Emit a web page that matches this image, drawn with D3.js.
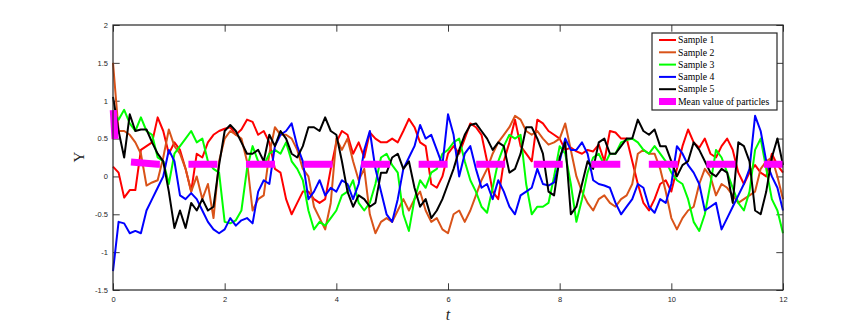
<!DOCTYPE html>
<html>
<head>
<meta charset="utf-8">
<script src="https://cdn.jsdelivr.net/npm/d3@7"></script>
<style>
  body { margin: 0; background: #fff; }
  svg { display: block; }
  .axis text { font-family: "Liberation Sans", Arial, sans-serif; font-size: 7.5px; fill: #262626; }
  .axis line { stroke: #262626; stroke-width: 0.9; }
</style>
</head>
<body>
<svg width="866" height="327"></svg>
<script>
// time step of the samples (t = i * dt, 0..12)
var dt = 0.1;

var sample1 = [0.13, 0.05, -0.28, -0.18, -0.18, 0.35, 0.4, 0.45, 0.78, 0.6, 0.3, 0.45, 0.35, 0.1, -0.2, 0.3, 0.25, 0.45, 0.55, 0.6, 0.63, 0.65, 0.55, 0.62, 0.75,
  0.72, 0.55, 0.6, 0.45, 0.1, 0.05, -0.3, -0.5, -0.35, -0.2, -0.2, -0.3, -0.35, -0.3, 0.1, 0.45, 0.6, 0.55, 0.3, 0.45, 0.25, 0.58, 0.5, 0.45,
  0.45, 0.5, 0.45, 0.6, 0.76, 0.65, 0.45, 0.4, -0.1, -0.15, 0.0, 0.3, 0.4, 0.3, 0.5, 0.7, 0.65, 0.55, 0.2, -0.2, -0.3, 0.2, 0.45, 0.75,
  0.4, 0.3, 0.2, 0.75, 0.7, 0.6, 0.55, 0.5, 0.35, 0.38, 0.33, 0.3, 0.35, 0.33, 0.42, 0.2, 0.6, 0.58, 0.5, 0.5, 0.2, -0.1, -0.35, -0.45,
  -0.3, -0.1, -0.05, -0.2, 0.1, 0.4, 0.62, 0.45, 0.38, 0.5, 0.3, 0.25, 0.4, 0.5, 0.35, 0.05, -0.1, 0.05, 0.15, 0.05, 0.0, 0.3, 0.15, 0.05];

var sample2 = [1.5, 0.6, 0.6, 0.55, 0.45, 0.3, -0.12, -0.08, -0.05, 0.25, 0.62, 0.4, 0.3, 0.1, -0.2, 0.0, -0.3, -0.1, -0.55, 0.2, 0.5, 0.6, 0.55, 0.5, 0.2,
  -0.45, -0.3, -0.25, 0.3, 0.65, 0.55, 0.55, 0.5, 0.35, 0.1, 0.0, -0.4, -0.55, -0.7, -0.35, 0.5, 0.35, 0.5, 0.2, -0.05, 0.1, -0.5, -0.75, -0.6,
  -0.55, -0.6, -0.45, -0.3, -0.45, -0.3, -0.2, -0.45, -0.6, -0.55, -0.7, -0.75, -0.5, -0.45, -0.6, -0.45, -0.25, -0.05, 0.1, 0.3, 0.45, 0.55, 0.65, 0.8,
  0.75, 0.6, 0.55, 0.6, 0.5, 0.42, 0.45, 0.5, 0.7, 0.35, 0.0, -0.2, -0.35, -0.45, -0.3, -0.25, -0.35, -0.4, -0.3, -0.25, -0.1, 0.3, 0.35, 0.3,
  0.3, 0.1, -0.2, -0.55, -0.7, -0.55, -0.45, -0.4, -0.1, 0.1, 0.0, -0.25, -0.1, -0.15, -0.25, -0.35, -0.3, -0.25, -0.2, 0.1, 0.2, 0.25, 0.0, -0.3];

var sample3 = [0.85, 0.75, 0.88, 0.7, 0.6, 0.78, 0.6, 0.55, 0.25, 0.2, -0.1, 0.3, 0.4, 0.5, 0.6, 0.45, 0.5, 0.2, 0.1, 0.05, -0.6, -0.62, -0.58, -0.45, 0.1,
  0.4, 0.2, 0.15, 0.3, 0.35, 0.3, 0.45, 0.2, 0.1, -0.05, -0.45, -0.7, -0.6, -0.65, -0.55, -0.45, -0.25, -0.2, -0.05, -0.35, -0.45, -0.35, -0.1, 0.25,
  0.3, 0.15, 0.05, -0.5, -0.72, -0.3, -0.05, -0.15, 0.05, 0.1, 0.3, 0.35, 0.45, 0.5, 0.2, -0.05, -0.2, -0.4, -0.48, -0.15, 0.2, 0.4, 0.55, 0.5,
  0.55, -0.1, -0.5, -0.4, -0.4, -0.35, 0.0, 0.4, 0.3, -0.1, -0.6, -0.3, 0.05, 0.25, 0.3, 0.15, 0.3, 0.3, 0.45, 0.48, 0.5, 0.45, 0.35, 0.3,
  0.4, 0.3, 0.2, 0.05, -0.05, -0.1, -0.3, -0.6, -0.72, -0.5, -0.1, 0.35, 0.25, 0.05, -0.15, -0.35, -0.45, -0.2, 0.35, 0.5, 0.1, -0.3, -0.45, -0.75];

var sample4 = [-1.25, -0.6, -0.62, -0.75, -0.72, -0.75, -0.45, -0.3, -0.15, 0.0, 0.35, 0.2, -0.25, -0.3, -0.22, -0.3, -0.45, -0.6, -0.7, -0.75, -0.7, -0.55, -0.65, -0.58, -0.55,
  -0.62, -0.2, -0.05, -0.1, 0.4, 0.55, 0.6, 0.7, 0.4, 0.2, -0.3, -0.2, -0.05, -0.25, -0.15, -0.2, -0.05, -0.1, -0.3, -0.1, 0.35, 0.6, 0.1, -0.2,
  -0.5, -0.6, -0.3, 0.1, 0.25, 0.4, 0.68, 0.5, 0.55, 0.35, 0.15, 0.82, 0.55, 0.0, 0.3, 0.4, 0.1, -0.15, -0.1, -0.3, -0.05, -0.2, -0.4, -0.5,
  -0.25, -0.2, -0.15, 0.1, -0.1, -0.12, -0.08, 0.2, 0.5, 0.35, 0.35, 0.45, 0.3, -0.05, -0.1, -0.12, -0.15, -0.35, -0.5, -0.4, -0.3, -0.1, -0.15, -0.4,
  -0.48, -0.3, -0.35, -0.1, 0.4, 0.3, 0.15, 0.05, -0.1, -0.45, -0.4, -0.35, -0.7, -0.55, -0.4, -0.25, -0.1, 0.1, 0.8, 0.6, 0.2, 0.0, -0.15, -0.45];

var sample5 = [1.05, 0.6, 0.25, 0.82, 0.6, 0.62, 0.62, 0.45, 0.3, 0.2, -0.2, -0.68, -0.45, -0.68, -0.35, -0.45, -0.3, -0.45, -0.4, 0.15, 0.6, 0.68, 0.6, 0.45, 0.3,
  0.3, 0.35, 0.2, 0.55, 0.4, 0.6, 0.5, 0.3, 0.25, 0.4, 0.65, 0.65, 0.6, 0.78, 0.6, 0.55, 0.2, -0.2, -0.4, -0.25, -0.3, -0.4, -0.35, 0.05,
  0.05, 0.25, 0.3, 0.1, 0.2, -0.15, -0.4, -0.3, -0.55, -0.45, -0.3, -0.1, 0.1, 0.35, 0.55, 0.68, 0.7, 0.6, 0.5, 0.35, 0.45, 0.4, 0.05, 0.1,
  0.3, 0.65, 0.65, 0.5, 0.3, -0.2, -0.25, 0.25, 0.45, -0.5, -0.4, -0.1, 0.2, 0.1, 0.45, 0.5, 0.3, 0.3, 0.4, 0.5, 0.5, 0.75, 0.6, 0.55,
  0.62, 0.4, 0.4, 0.2, 0.0, 0.15, 0.2, 0.45, 0.35, 0.2, 0.05, 0.0, 0.1, 0.05, -0.35, 0.45, 0.4, 0.2, -0.45, -0.5, -0.2, 0.25, 0.5, 0.15];

// mean value of particles
var meanT = [0, 0.04, 0.32, 0.8, 12];
var meanV = [0.93, 0.45, 0.19, 0.16, 0.16];

var names = ["Sample 1", "Sample 2", "Sample 3", "Sample 4", "Sample 5", "Mean value of particles"];
var colors = ["#ff0000", "#d95319", "#00ff00", "#0000ff", "#000000", "#ff00ff"];

var xTicks = [0, 2, 4, 6, 8, 10, 12];
var yTicks = [-1.5, -1, -0.5, 0, 0.5, 1, 1.5, 2];

var svg = d3.select("svg"),
    margin = {top: 25, right: 83, bottom: 37, left: 113},
    width = +svg.attr("width") - margin.left - margin.right,
    height = +svg.attr("height") - margin.top - margin.bottom,
    g = svg.append("g").attr("transform", "translate(" + margin.left + "," + margin.top + ")");

var x = d3.scaleLinear().domain([0, 12]).range([0, width]);
var y = d3.scaleLinear().domain([-1.5, 2]).range([height, 0]);

var tickLen = 6.7;

// axes, ticks pointing inward on all four sides
g.append("g")
    .attr("class", "axis")
    .attr("transform", "translate(0," + height + ")")
    .call(d3.axisBottom(x).tickValues(xTicks).tickSize(-tickLen).tickPadding(6.5).tickFormat(function(d) { return String(d); }))
    .call(function(a) { a.select(".domain").remove(); });

g.append("g")
    .attr("class", "axis")
    .call(d3.axisTop(x).tickValues(xTicks).tickSize(-tickLen).tickFormat(""))
    .call(function(a) { a.select(".domain").remove(); });

g.append("g")
    .attr("class", "axis")
    .call(d3.axisLeft(y).tickValues(yTicks).tickSize(-tickLen).tickPadding(5).tickFormat(function(d) { return String(d); }))
    .call(function(a) { a.select(".domain").remove(); });

g.append("g")
    .attr("class", "axis")
    .attr("transform", "translate(" + width + ",0)")
    .call(d3.axisRight(y).tickValues(yTicks).tickSize(-tickLen).tickFormat(""))
    .call(function(a) { a.select(".domain").remove(); });

// sample paths
var line = d3.line()
    .x(function(d, i) { return x(i * dt); })
    .y(function(d) { return y(d); });

[sample1, sample2, sample3, sample4, sample5].forEach(function(s, k) {
  g.append("path")
      .datum(s)
      .attr("fill", "none")
      .attr("stroke", colors[k])
      .attr("stroke-width", 2)
      .attr("stroke-linejoin", "round")
      .attr("d", line);
});

// mean, thick dashed
var meanPts = meanT.map(function(t, i) { return [t, meanV[i]]; });
var dashOn = 29, dashOff = 28.55, firstDashT = 0.322;

var meanPath = g.append("path")
    .datum(meanPts)
    .attr("fill", "none")
    .attr("stroke", colors[5])
    .attr("stroke-width", 7)
    .attr("stroke-dasharray", dashOn + " " + dashOff)
    .attr("d", d3.line().x(function(d) { return x(d[0]); }).y(function(d) { return y(d[1]); }));

// line the dashes up so one starts at firstDashT
var node = meanPath.node(), lo = 0, hi = node.getTotalLength(), tx = x(firstDashT);
for (var it = 0; it < 40; it++) {
  var mid = (lo + hi) / 2;
  if (node.getPointAtLength(mid).x < tx) lo = mid; else hi = mid;
}
var period = dashOn + dashOff;
meanPath.attr("stroke-dashoffset", (period - (lo % period)) % period);

// frame
g.append("rect")
    .attr("width", width)
    .attr("height", height)
    .attr("fill", "none")
    .attr("stroke", "#262626")
    .attr("stroke-width", 1.2);

// axis labels
svg.append("text")
    .attr("transform", "translate(84,157) rotate(-90)")
    .attr("text-anchor", "middle")
    .style("font-family", "'Liberation Serif', 'Times New Roman', serif")
    .style("font-size", "15px")
    .attr("fill", "#262626")
    .text("Y");

svg.append("text")
    .attr("x", margin.left + width / 2)
    .attr("y", 320)
    .attr("text-anchor", "middle")
    .style("font-family", "'Liberation Serif', 'Times New Roman', serif")
    .style("font-size", "16px")
    .style("font-style", "italic")
    .attr("fill", "#262626")
    .text("t");

// legend
var legend = svg.append("g").attr("transform", "translate(652,33)");

legend.append("rect")
    .attr("width", 125)
    .attr("height", 77)
    .attr("fill", "#fff")
    .attr("stroke", "#262626")
    .attr("stroke-width", 1.2);

var rows = legend.selectAll(".row")
    .data(names)
    .enter().append("g")
    .attr("class", "row")
    .attr("transform", function(d, i) { return "translate(0," + (7 + i * 12.3) + ")"; });

rows.append("line")
    .attr("x1", 7)
    .attr("x2", 24)
    .attr("stroke", function(d, i) { return colors[i]; })
    .attr("stroke-width", function(d, i) { return i === 5 ? 7 : 2; });

rows.append("text")
    .attr("x", 26)
    .attr("dy", "0.33em")
    .style("font-family", "'Liberation Serif', 'Times New Roman', serif")
    .style("font-size", "9.7px")
    .attr("fill", "#000")
    .text(function(d) { return d; });
</script>
</body>
</html>
